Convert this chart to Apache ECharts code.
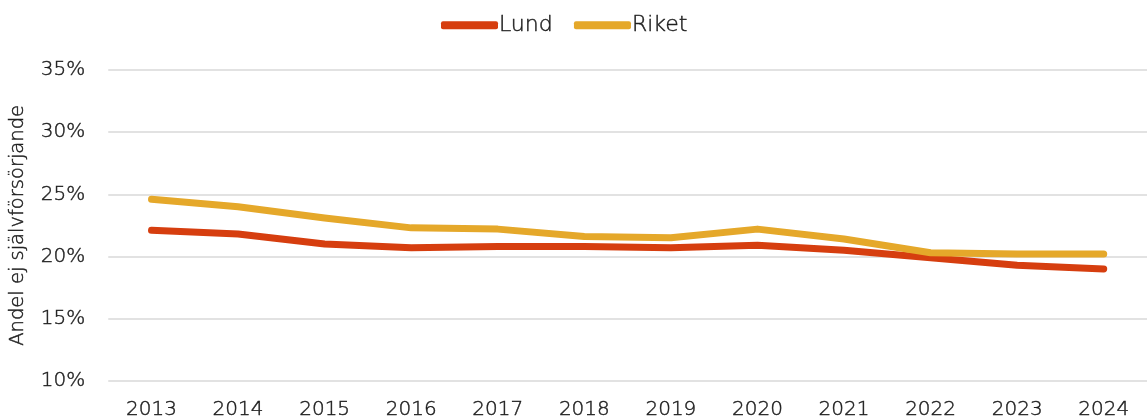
<!DOCTYPE html>
<html>
<head>
<meta charset="utf-8">
<script src="https://cdn.jsdelivr.net/npm/echarts@6/dist/echarts.min.js"></script>
<style>
  html, body { margin: 0; padding: 0; background: #ffffff; }
  #chart { width: 1147px; height: 420px; }
</style>
</head>
<body>
<div id="chart"></div>
<script>
// Andel ej självförsörjande, Lund jämfört med riket (procent)
const years = ['2013', '2014', '2015', '2016', '2017', '2018', '2019', '2020', '2021', '2022', '2023', '2024'];
const lund  = [22.1, 21.8, 21.0, 20.7, 20.8, 20.8, 20.7, 20.9, 20.5, 19.9, 19.3, 19.0];
const riket = [24.6, 24.0, 23.1, 22.3, 22.2, 21.6, 21.5, 22.2, 21.4, 20.3, 20.2, 20.2];
const yTicks = { min: 10, max: 35, step: 5 };

const FONT = 'DejaVu Sans';
const WEIGHT = 200;
const TEXT = '#1e1e1e';

// thin typeface, slightly thickened with a same-colour outline
function txt(size, extra) {
  return Object.assign({
    fontFamily: FONT, fontWeight: WEIGHT, fontSize: size, color: TEXT,
    textBorderColor: TEXT, textBorderWidth: 0.45
  }, extra || {});
}

const chart = echarts.init(document.getElementById('chart'), null, { renderer: 'canvas' });

chart.setOption({
  animation: false,
  backgroundColor: '#ffffff',
  textStyle: { fontFamily: FONT, fontWeight: WEIGHT },
  legend: {
    top: 9,
    left: 436,
    icon: 'roundRect',
    itemWidth: 57,
    itemHeight: 8,
    itemGap: 21,
    textStyle: txt(22, { padding: [0, 0, 0, -4] }),
    data: ['Lund', 'Riket']
  },
  grid: { left: 108, right: -12, top: 70, bottom: 39, containLabel: false },
  xAxis: {
    type: 'category',
    data: years,
    boundaryGap: true,
    axisLine: { show: false },
    axisTick: { show: false },
    axisLabel: txt(20, { margin: 19 })
  },
  yAxis: {
    type: 'value',
    min: yTicks.min,
    max: yTicks.max,
    interval: yTicks.step,
    name: 'Andel ej självförsörjande',
    nameLocation: 'middle',
    nameGap: 80,
    nameTextStyle: txt(19.5),
    axisLine: { show: false },
    axisTick: { show: false },
    axisLabel: txt(20, { margin: 23, formatter: v => v + '%' }),
    splitLine: { lineStyle: { color: '#d9d9d9', width: 1.5 } }
  },
  series: [
    {
      name: 'Lund',
      type: 'line',
      data: lund,
      symbol: 'none',
      color: '#d63e0f',
      lineStyle: { width: 7, cap: 'round', join: 'round' }
    },
    {
      name: 'Riket',
      type: 'line',
      data: riket,
      symbol: 'none',
      color: '#e5a82a',
      lineStyle: { width: 7, cap: 'round', join: 'round' }
    }
  ]
});
</script>
</body>
</html>
